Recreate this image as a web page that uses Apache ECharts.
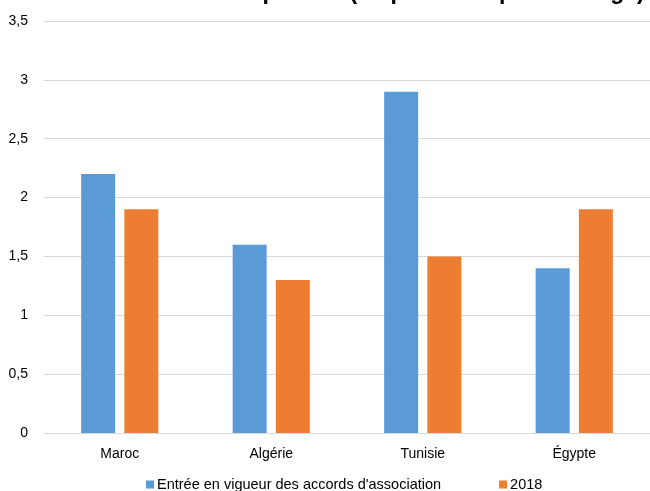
<!DOCTYPE html>
<html><head><meta charset="utf-8">
<script src="https://cdn.jsdelivr.net/npm/echarts@6/dist/echarts.min.js"></script>
<style>html,body{margin:0;padding:0;background:#fff}#c{width:650px;height:491px}</style>
</head><body><div id="c"></div>
<script>
const categories = ['Maroc', 'Algérie', 'Tunisie', 'Égypte'];
const seriesNames = ["Entrée en vigueur des accords d'association", '2018'];
const valuesEntree = [2.2, 1.6, 2.9, 1.4];
const values2018 = [1.9, 1.3, 1.5, 1.9];
const titleText = "Part de l'Union européenne (en points de pourcentage)";

const chart = echarts.init(document.getElementById('c'));
chart.setOption({
  animation: false,
  textStyle: { fontFamily: 'Liberation Sans, Arial, sans-serif' },
  title: {
    text: titleText, left: 40, top: -24, padding: 5,
    textStyle: { fontSize: 23, fontWeight: 'bold', color: '#000', fontFamily: 'Liberation Sans, Arial, sans-serif' }
  },
  grid: { left: 44, right: -2, top: 21, bottom: 58, containLabel: false },
  legend: {
    bottom: -6, left: 141, itemWidth: 8, itemHeight: 8, itemGap: 58, icon: 'rect',
    textStyle: { fontSize: 14.5, color: '#000', padding: [0, 0, 0, -2] },
    data: seriesNames
  },
  xAxis: {
    type: 'category', data: categories,
    axisLine: { lineStyle: { color: '#d9d9d9' } },
    axisTick: { show: false },
    axisLabel: { fontSize: 14, color: '#000', margin: 14 }
  },
  yAxis: {
    type: 'value', min: 0, max: 3.5, interval: 0.5,
    axisLine: { show: false }, axisTick: { show: false },
    axisLabel: { fontSize: 14, color: '#000', margin: 16, formatter: v => String(v).replace('.', ',') },
    splitLine: { lineStyle: { color: '#d9d9d9' } }
  },
  series: [
    { name: seriesNames[0], type: 'bar', data: valuesEntree, barWidth: 34, barGap: '27%', itemStyle: { color: '#5B9BD5' } },
    { name: seriesNames[1], type: 'bar', data: values2018, barWidth: 34, itemStyle: { color: '#ED7D31' } }
  ]
});
</script></body></html>
